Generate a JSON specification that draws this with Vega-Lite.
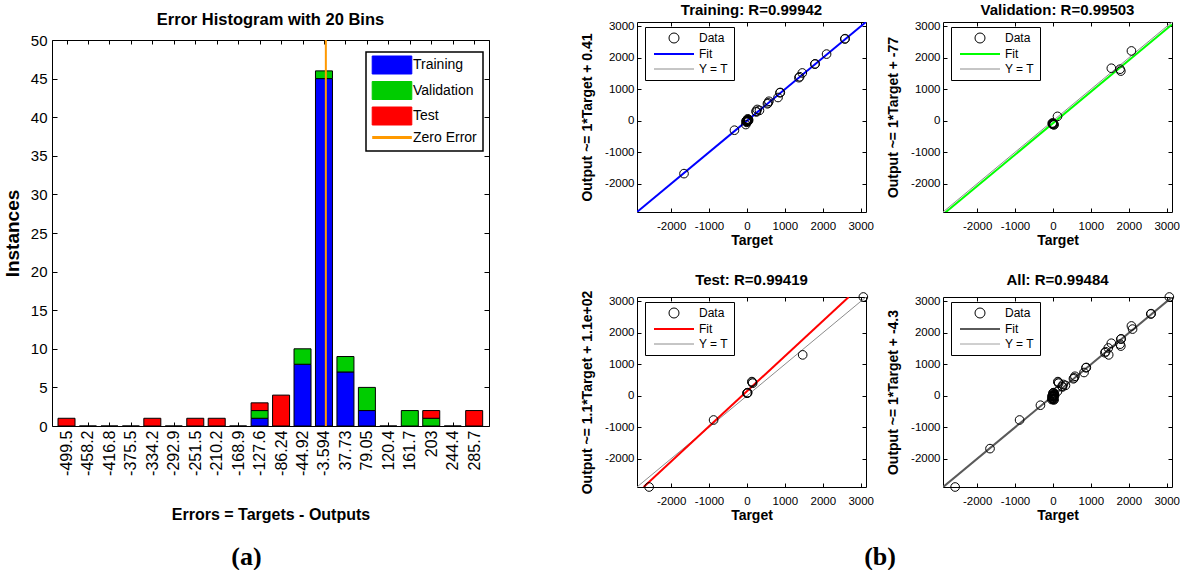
{
  "$schema": "https://vega.github.io/schema/vega-lite/v6.json",
  "background": "white",
  "padding": {"left": 2, "top": 2, "right": 0, "bottom": 0},
  "config": {
    "view": {"stroke": "black", "strokeWidth": 1},
    "axis": {"grid": false, "domain": false, "ticks": true, "tickColor": "black", "tickSize": -4, "tickWidth": 1, "labelColor": "black", "titleColor": "black", "labelFlush": false, "labelOverlap": false, "labelExpr": "'' + datum.value", "labelFont": "Liberation Sans, Arial, sans-serif", "labelFontSize": 11.5, "titleFont": "Liberation Sans, Arial, sans-serif", "titleFontSize": 14, "titleFontWeight": "bold"},
    "title": {"color": "black"}
  },
  "datasets": {
    "hist": [
      {"bin": -499.5, "series": "Test", "count": 1, "k": 3},
      {"bin": -458.2, "series": "Training", "count": 0, "k": 1},
      {"bin": -416.8, "series": "Training", "count": 0, "k": 1},
      {"bin": -375.5, "series": "Training", "count": 0, "k": 1},
      {"bin": -334.2, "series": "Test", "count": 1, "k": 3},
      {"bin": -292.9, "series": "Training", "count": 0, "k": 1},
      {"bin": -251.5, "series": "Test", "count": 1, "k": 3},
      {"bin": -210.2, "series": "Test", "count": 1, "k": 3},
      {"bin": -168.9, "series": "Training", "count": 0, "k": 1},
      {"bin": -127.6, "series": "Training", "count": 1, "k": 1},
      {"bin": -127.6, "series": "Validation", "count": 1, "k": 2},
      {"bin": -127.6, "series": "Test", "count": 1, "k": 3},
      {"bin": -86.24, "series": "Test", "count": 4, "k": 3},
      {"bin": -44.92, "series": "Training", "count": 8, "k": 1},
      {"bin": -44.92, "series": "Validation", "count": 2, "k": 2},
      {"bin": -3.594, "series": "Training", "count": 45, "k": 1},
      {"bin": -3.594, "series": "Validation", "count": 1, "k": 2},
      {"bin": 37.73, "series": "Training", "count": 7, "k": 1},
      {"bin": 37.73, "series": "Validation", "count": 2, "k": 2},
      {"bin": 79.05, "series": "Training", "count": 2, "k": 1},
      {"bin": 79.05, "series": "Validation", "count": 3, "k": 2},
      {"bin": 120.4, "series": "Training", "count": 0, "k": 1},
      {"bin": 161.7, "series": "Validation", "count": 2, "k": 2},
      {"bin": 203, "series": "Validation", "count": 1, "k": 2},
      {"bin": 203, "series": "Test", "count": 1, "k": 3},
      {"bin": 244.4, "series": "Training", "count": 0, "k": 1},
      {"bin": 285.7, "series": "Test", "count": 2, "k": 3}
    ],
    "pts": [
      {"panel": "Training", "target": -1660, "output": -1680},
      {"panel": "Training", "target": -330, "output": -300},
      {"panel": "Training", "target": -30, "output": -120},
      {"panel": "Training", "target": 0, "output": 0},
      {"panel": "Training", "target": 15, "output": 10},
      {"panel": "Training", "target": -15, "output": -20},
      {"panel": "Training", "target": 25, "output": 30},
      {"panel": "Training", "target": -5, "output": -50},
      {"panel": "Training", "target": 35, "output": 45},
      {"panel": "Training", "target": 10, "output": -30},
      {"panel": "Training", "target": -25, "output": -10},
      {"panel": "Training", "target": 45, "output": 20},
      {"panel": "Training", "target": 20, "output": 60},
      {"panel": "Training", "target": 5, "output": 15},
      {"panel": "Training", "target": 30, "output": -10},
      {"panel": "Training", "target": 240, "output": 300},
      {"panel": "Training", "target": 270, "output": 360},
      {"panel": "Training", "target": 330, "output": 330},
      {"panel": "Training", "target": 250, "output": 280},
      {"panel": "Training", "target": 540, "output": 540},
      {"panel": "Training", "target": 560, "output": 570},
      {"panel": "Training", "target": 580, "output": 620},
      {"panel": "Training", "target": 820, "output": 740},
      {"panel": "Training", "target": 870, "output": 890},
      {"panel": "Training", "target": 880, "output": 900},
      {"panel": "Training", "target": 1370, "output": 1370},
      {"panel": "Training", "target": 1390, "output": 1400},
      {"panel": "Training", "target": 1460, "output": 1520},
      {"panel": "Training", "target": 1790, "output": 1800},
      {"panel": "Training", "target": 1800, "output": 1810},
      {"panel": "Training", "target": 2100, "output": 2120},
      {"panel": "Training", "target": 2580, "output": 2600},
      {"panel": "Training", "target": 2590, "output": 2610},
      {"panel": "Validation", "target": 1540, "output": 1670},
      {"panel": "Validation", "target": 1770, "output": 1640},
      {"panel": "Validation", "target": 1790, "output": 1580},
      {"panel": "Validation", "target": 2070, "output": 2220},
      {"panel": "Validation", "target": 120, "output": 140},
      {"panel": "Validation", "target": -10, "output": -110},
      {"panel": "Validation", "target": 0, "output": -90},
      {"panel": "Validation", "target": 30, "output": -130},
      {"panel": "Validation", "target": -20, "output": -80},
      {"panel": "Validation", "target": 10, "output": -120},
      {"panel": "Validation", "target": 20, "output": -100},
      {"panel": "Validation", "target": -5, "output": -70},
      {"panel": "Test", "target": -2580, "output": -2900},
      {"panel": "Test", "target": -880, "output": -770},
      {"panel": "Test", "target": 20, "output": 100},
      {"panel": "Test", "target": 0, "output": 80},
      {"panel": "Test", "target": 10, "output": 90},
      {"panel": "Test", "target": 130, "output": 450},
      {"panel": "Test", "target": 150, "output": 400},
      {"panel": "Test", "target": 140, "output": 430},
      {"panel": "Test", "target": 1470, "output": 1300},
      {"panel": "Test", "target": 3070, "output": 3140}
    ],
    "lines": [
      {"panel": "Training", "line": "Fit", "target": -2900, "output": -2899.6},
      {"panel": "Training", "line": "Fit", "target": 3140, "output": 3140.4},
      {"panel": "Training", "line": "Y = T", "target": -2900, "output": -2900},
      {"panel": "Training", "line": "Y = T", "target": 3140, "output": 3140},
      {"panel": "Validation", "line": "Fit", "target": -2900, "output": -2977},
      {"panel": "Validation", "line": "Fit", "target": 3140, "output": 3063},
      {"panel": "Validation", "line": "Y = T", "target": -2900, "output": -2900},
      {"panel": "Validation", "line": "Y = T", "target": 3140, "output": 3140},
      {"panel": "Test", "line": "Fit", "target": -2725, "output": -2900},
      {"panel": "Test", "line": "Fit", "target": 2684, "output": 3140},
      {"panel": "Test", "line": "Y = T", "target": -2900, "output": -2900},
      {"panel": "Test", "line": "Y = T", "target": 3140, "output": 3140},
      {"panel": "All", "line": "Fit", "target": -2900, "output": -2904.3},
      {"panel": "All", "line": "Fit", "target": 3140, "output": 3135.7},
      {"panel": "All", "line": "Y = T", "target": -2900, "output": -2900},
      {"panel": "All", "line": "Y = T", "target": 3140, "output": 3140}
    ]
  },
  "concat": [
    {
      "title": {"text": "(a)", "orient": "bottom", "font": "Liberation Serif", "fontSize": 26, "fontWeight": "bold", "offset": 21, "anchor": "middle"},
      "spacing": 17,
      "bounds": "flush",
      "vconcat": [
        {
          "width": 437,
          "height": 1,
          "view": {"stroke": null},
          "data": {"values": []},
          "mark": {"type": "point"},
          "encoding": {}
        },
        {
          "width": 437,
          "height": 386,
          "title": {"text": "Error Histogram with 20 Bins", "font": "Liberation Sans, Arial, sans-serif", "fontSize": 16.5, "fontWeight": "bold", "baseline": "alphabetic", "offset": 15, "dy": 23, "anchor": "middle", "frame": "group"},
          "layer": [
            {
              "data": {"name": "hist"},
              "mark": {"type": "bar", "width": 17, "stroke": "black", "strokeWidth": 1},
              "encoding": {
                "x": {"field": "bin", "type": "quantitative", "scale": {"domain": [-517.8, 304.6], "nice": false, "zero": false},
                  "axis": {"orient": "bottom", "values": [-499.5, -458.2, -416.8, -375.5, -334.2, -292.9, -251.5, -210.2, -168.9, -127.6, -86.24, -44.92, -3.594, 37.73, 79.05, 120.4, 161.7, 203, 244.4, 285.7], "labelAngle": 270, "labelFontSize": 16, "labelPadding": 8, "tickSize": -4, "title": "Errors = Targets - Outputs", "titleFontSize": 16, "titlePadding": 31}},
                "y": {"field": "count", "type": "quantitative", "stack": "zero", "scale": {"domain": [0, 50], "nice": false},
                  "axis": {"orient": "left", "values": [0, 5, 10, 15, 20, 25, 30, 35, 40, 45, 50], "labelFontSize": 15, "labelPadding": 10, "tickSize": -5, "title": "Instances", "titleFontSize": 19, "titlePadding": 8}},
                "color": {"field": "series", "type": "nominal", "scale": {"domain": ["Training", "Validation", "Test", "Zero Error"], "range": ["#0000FF", "#00CC00", "#FF0000", "#FF9900"]},
                  "legend": {"title": null, "orient": "none", "legendX": 314, "legendY": 30, "padding": 6, "strokeColor": "black", "fillColor": "white", "symbolType": "M-2.2,-1H2.2V1H-2.2Z", "symbolSize": 324, "symbolOffset": 13, "labelOffset": 14, "rowPadding": 3.5, "labelFont": "Liberation Sans, Arial, sans-serif", "labelFontSize": 14, "labelColor": "black", "symbolStrokeWidth": 1, "symbolOpacity": 1,
                    "encode": {
                      "legend": {"update": {"strokeWidth": {"value": 1.5}}},
                      "symbols": {"update": {
                        "shape": {"signal": "datum.value === 'Zero Error' ? 'M-2.2,0H2.2' : 'M-2.2,-1H2.2V1H-2.2Z'"},
                        "stroke": {"signal": "datum.value === 'Zero Error' ? '#FF9900' : 'black'"},
                        "strokeWidth": {"signal": "datum.value === 'Zero Error' ? 3 : 1"}
                      }}
                    }}},
                "order": {"field": "k", "type": "quantitative"}
              }
            },
            {
              "data": {"values": [{"label": "Zero Error"}]},
              "mark": {"type": "rule", "strokeWidth": 2},
              "encoding": {
                "x": {"datum": 0, "type": "quantitative", "axis": {"orient": "top", "values": [-499.5, -458.2, -416.8, -375.5, -334.2, -292.9, -251.5, -210.2, -168.9, -127.6, -86.24, -44.92, -3.594, 37.73, 79.05, 120.4, 161.7, 203, 244.4, 285.7], "labels": false, "title": null, "tickSize": -4}},
                "y": {"datum": 0, "type": "quantitative", "axis": {"orient": "right", "values": [0, 5, 10, 15, 20, 25, 30, 35, 40, 45, 50], "labels": false, "title": null, "tickSize": -5}},
                "y2": {"datum": 50},
                "color": {"datum": "Zero Error", "type": "nominal",
                  "legend": {"title": null, "orient": "none", "legendX": 314, "legendY": 30, "padding": 6, "strokeColor": "black", "fillColor": "white", "symbolType": "M-2.2,-1H2.2V1H-2.2Z", "symbolSize": 324, "symbolOffset": 13, "labelOffset": 14, "rowPadding": 3.5, "labelFont": "Liberation Sans, Arial, sans-serif", "labelFontSize": 14, "labelColor": "black", "symbolStrokeWidth": 1, "symbolOpacity": 1,
                    "encode": {
                      "legend": {"update": {"strokeWidth": {"value": 1.5}}},
                      "symbols": {"update": {
                        "shape": {"signal": "datum.value === 'Zero Error' ? 'M-2.2,0H2.2' : 'M-2.2,-1H2.2V1H-2.2Z'"},
                        "stroke": {"signal": "datum.value === 'Zero Error' ? '#FF9900' : 'black'"},
                        "strokeWidth": {"signal": "datum.value === 'Zero Error' ? 3 : 1"}
                      }}
                    }}}
              }
            }
          ],
          "resolve": {"axis": {"x": "independent", "y": "independent"}}
        }
      ]
    },
    {
      "title": {"text": "(b)", "orient": "bottom", "font": "Liberation Serif", "fontSize": 26, "fontWeight": "bold", "offset": 21, "anchor": "middle"},
      "columns": 2,
      "spacing": {"row": 85, "column": 77},
      "bounds": "flush",
      "resolve": {"scale": {"stroke": "independent"}, "legend": {"stroke": "independent"}},
      "concat": [
        {
          "width": 229, "height": 190,
          "title": {"text": "Training: R=0.99942", "font": "Liberation Sans, Arial, sans-serif", "fontSize": 15, "fontWeight": "bold", "baseline": "alphabetic", "offset": 9, "dy": 18.5, "anchor": "middle", "frame": "group"},
          "layer": [
            {
              "data": {"name": "lines"},
              "transform": [{"filter": "datum.panel === 'Training' && datum.line === 'Y = T'"}],
              "mark": {"type": "line", "clip": true, "strokeWidth": 1},
              "encoding": {
                "x": {"field": "target", "type": "quantitative", "scale": {"domain": [-2900, 3140], "nice": false, "zero": false}, "axis": {"orient": "top", "values": [-2000, -1000, 0, 1000, 2000, 3000], "labels": false, "title": null}},
                "y": {"field": "output", "type": "quantitative", "scale": {"domain": [-2900, 3140], "nice": false, "zero": false}, "axis": {"orient": "right", "values": [-2000, -1000, 0, 1000, 2000, 3000], "labels": false, "title": null}},
                "stroke": {"datum": "Y = T", "type": "nominal", "scale": {"domain": ["Data", "Fit", "Y = T"], "range": ["black", "#0000FF", "#8C8C8C"]},
                  "legend": {"title": null, "orient": "none", "legendX": 8, "legendY": 5, "padding": 5, "strokeColor": "black", "fillColor": "white", "symbolSize": 100, "symbolOffset": 18, "labelOffset": 19, "rowPadding": 3, "labelFont": "Liberation Sans, Arial, sans-serif", "labelFontSize": 12, "labelColor": "black", "symbolStrokeWidth": 1, "symbolOpacity": 1,
                    "encode": {"symbols": {"update": {"shape": {"signal": "datum.value === 'Data' ? 'circle' : 'M-4,0H4'"}, "strokeWidth": {"signal": "datum.value === 'Fit' ? 2 : 1"}, "fill": {"value": "transparent"}}}}}}
              }
            },
            {
              "data": {"name": "lines"},
              "transform": [{"filter": "datum.panel === 'Training' && datum.line === 'Fit'"}],
              "mark": {"type": "line", "clip": true, "strokeWidth": 2},
              "encoding": {
                "x": {"field": "target", "type": "quantitative", "axis": null},
                "y": {"field": "output", "type": "quantitative", "axis": null},
                "stroke": {"datum": "Fit", "type": "nominal"}
              }
            },
            {
              "data": {"name": "pts"},
              "transform": [{"filter": "datum.panel === 'Training'"}],
              "mark": {"type": "point", "shape": "circle", "filled": false, "size": 75, "strokeWidth": 1, "opacity": 1},
              "encoding": {
                "x": {"field": "target", "type": "quantitative", "axis": {"orient": "bottom", "values": [-2000, -1000, 0, 1000, 2000, 3000], "title": "Target", "labelPadding": 12, "titlePadding": 2}},
                "y": {"field": "output", "type": "quantitative", "axis": {"orient": "left", "values": [-2000, -1000, 0, 1000, 2000, 3000], "title": "Output ~= 1*Target + 0.41", "labelPadding": 7, "titlePadding": 10}},
                "stroke": {"datum": "Data", "type": "nominal"}
              }
            }
          ],
          "resolve": {"axis": {"x": "independent", "y": "independent"}}
        },
        {
          "width": 229, "height": 190,
          "title": {"text": "Validation: R=0.99503", "font": "Liberation Sans, Arial, sans-serif", "fontSize": 15, "fontWeight": "bold", "baseline": "alphabetic", "offset": 9, "dy": 18.5, "anchor": "middle", "frame": "group"},
          "layer": [
            {
              "data": {"name": "lines"},
              "transform": [{"filter": "datum.panel === 'Validation' && datum.line === 'Y = T'"}],
              "mark": {"type": "line", "clip": true, "strokeWidth": 1},
              "encoding": {
                "x": {"field": "target", "type": "quantitative", "scale": {"domain": [-2900, 3140], "nice": false, "zero": false}, "axis": {"orient": "top", "values": [-2000, -1000, 0, 1000, 2000, 3000], "labels": false, "title": null}},
                "y": {"field": "output", "type": "quantitative", "scale": {"domain": [-2900, 3140], "nice": false, "zero": false}, "axis": {"orient": "right", "values": [-2000, -1000, 0, 1000, 2000, 3000], "labels": false, "title": null}},
                "stroke": {"datum": "Y = T", "type": "nominal", "scale": {"domain": ["Data", "Fit", "Y = T"], "range": ["black", "#00FF00", "#8C8C8C"]},
                  "legend": {"title": null, "orient": "none", "legendX": 8, "legendY": 5, "padding": 5, "strokeColor": "black", "fillColor": "white", "symbolSize": 100, "symbolOffset": 18, "labelOffset": 19, "rowPadding": 3, "labelFont": "Liberation Sans, Arial, sans-serif", "labelFontSize": 12, "labelColor": "black", "symbolStrokeWidth": 1, "symbolOpacity": 1,
                    "encode": {"symbols": {"update": {"shape": {"signal": "datum.value === 'Data' ? 'circle' : 'M-4,0H4'"}, "strokeWidth": {"signal": "datum.value === 'Fit' ? 2 : 1"}, "fill": {"value": "transparent"}}}}}}
              }
            },
            {
              "data": {"name": "lines"},
              "transform": [{"filter": "datum.panel === 'Validation' && datum.line === 'Fit'"}],
              "mark": {"type": "line", "clip": true, "strokeWidth": 2},
              "encoding": {
                "x": {"field": "target", "type": "quantitative", "axis": null},
                "y": {"field": "output", "type": "quantitative", "axis": null},
                "stroke": {"datum": "Fit", "type": "nominal"}
              }
            },
            {
              "data": {"name": "pts"},
              "transform": [{"filter": "datum.panel === 'Validation'"}],
              "mark": {"type": "point", "shape": "circle", "filled": false, "size": 75, "strokeWidth": 1, "opacity": 1},
              "encoding": {
                "x": {"field": "target", "type": "quantitative", "axis": {"orient": "bottom", "values": [-2000, -1000, 0, 1000, 2000, 3000], "title": "Target", "labelPadding": 12, "titlePadding": 2}},
                "y": {"field": "output", "type": "quantitative", "axis": {"orient": "left", "values": [-2000, -1000, 0, 1000, 2000, 3000], "title": "Output ~= 1*Target + -77", "labelPadding": 7, "titlePadding": 10}},
                "stroke": {"datum": "Data", "type": "nominal"}
              }
            }
          ],
          "resolve": {"axis": {"x": "independent", "y": "independent"}}
        },
        {
          "width": 229, "height": 190,
          "title": {"text": "Test: R=0.99419", "font": "Liberation Sans, Arial, sans-serif", "fontSize": 15, "fontWeight": "bold", "baseline": "alphabetic", "offset": 9, "dy": 18.5, "anchor": "middle", "frame": "group"},
          "layer": [
            {
              "data": {"name": "lines"},
              "transform": [{"filter": "datum.panel === 'Test' && datum.line === 'Y = T'"}],
              "mark": {"type": "line", "clip": true, "strokeWidth": 1},
              "encoding": {
                "x": {"field": "target", "type": "quantitative", "scale": {"domain": [-2900, 3140], "nice": false, "zero": false}, "axis": {"orient": "top", "values": [-2000, -1000, 0, 1000, 2000, 3000], "labels": false, "title": null}},
                "y": {"field": "output", "type": "quantitative", "scale": {"domain": [-2900, 3140], "nice": false, "zero": false}, "axis": {"orient": "right", "values": [-2000, -1000, 0, 1000, 2000, 3000], "labels": false, "title": null}},
                "stroke": {"datum": "Y = T", "type": "nominal", "scale": {"domain": ["Data", "Fit", "Y = T"], "range": ["black", "#FF0000", "#8C8C8C"]},
                  "legend": {"title": null, "orient": "none", "legendX": 8, "legendY": 5, "padding": 5, "strokeColor": "black", "fillColor": "white", "symbolSize": 100, "symbolOffset": 18, "labelOffset": 19, "rowPadding": 3, "labelFont": "Liberation Sans, Arial, sans-serif", "labelFontSize": 12, "labelColor": "black", "symbolStrokeWidth": 1, "symbolOpacity": 1,
                    "encode": {"symbols": {"update": {"shape": {"signal": "datum.value === 'Data' ? 'circle' : 'M-4,0H4'"}, "strokeWidth": {"signal": "datum.value === 'Fit' ? 2 : 1"}, "fill": {"value": "transparent"}}}}}}
              }
            },
            {
              "data": {"name": "lines"},
              "transform": [{"filter": "datum.panel === 'Test' && datum.line === 'Fit'"}],
              "mark": {"type": "line", "clip": true, "strokeWidth": 2},
              "encoding": {
                "x": {"field": "target", "type": "quantitative", "axis": null},
                "y": {"field": "output", "type": "quantitative", "axis": null},
                "stroke": {"datum": "Fit", "type": "nominal"}
              }
            },
            {
              "data": {"name": "pts"},
              "transform": [{"filter": "datum.panel === 'Test'"}],
              "mark": {"type": "point", "shape": "circle", "filled": false, "size": 75, "strokeWidth": 1, "opacity": 1},
              "encoding": {
                "x": {"field": "target", "type": "quantitative", "axis": {"orient": "bottom", "values": [-2000, -1000, 0, 1000, 2000, 3000], "title": "Target", "labelPadding": 12, "titlePadding": 2}},
                "y": {"field": "output", "type": "quantitative", "axis": {"orient": "left", "values": [-2000, -1000, 0, 1000, 2000, 3000], "title": "Output ~= 1.1*Target + 1.1e+02", "labelPadding": 7, "titlePadding": 10}},
                "stroke": {"datum": "Data", "type": "nominal"}
              }
            }
          ],
          "resolve": {"axis": {"x": "independent", "y": "independent"}}
        },
        {
          "width": 229, "height": 190,
          "title": {"text": "All: R=0.99484", "font": "Liberation Sans, Arial, sans-serif", "fontSize": 15, "fontWeight": "bold", "baseline": "alphabetic", "offset": 9, "dy": 18.5, "anchor": "middle", "frame": "group"},
          "layer": [
            {
              "data": {"name": "lines"},
              "transform": [{"filter": "datum.panel === 'All' && datum.line === 'Y = T'"}],
              "mark": {"type": "line", "clip": true, "strokeWidth": 1},
              "encoding": {
                "x": {"field": "target", "type": "quantitative", "scale": {"domain": [-2900, 3140], "nice": false, "zero": false}, "axis": {"orient": "top", "values": [-2000, -1000, 0, 1000, 2000, 3000], "labels": false, "title": null}},
                "y": {"field": "output", "type": "quantitative", "scale": {"domain": [-2900, 3140], "nice": false, "zero": false}, "axis": {"orient": "right", "values": [-2000, -1000, 0, 1000, 2000, 3000], "labels": false, "title": null}},
                "stroke": {"datum": "Y = T", "type": "nominal", "scale": {"domain": ["Data", "Fit", "Y = T"], "range": ["black", "#5A5A5A", "#A0A0A0"]},
                  "legend": {"title": null, "orient": "none", "legendX": 8, "legendY": 5, "padding": 5, "strokeColor": "black", "fillColor": "white", "symbolSize": 100, "symbolOffset": 18, "labelOffset": 19, "rowPadding": 3, "labelFont": "Liberation Sans, Arial, sans-serif", "labelFontSize": 12, "labelColor": "black", "symbolStrokeWidth": 1, "symbolOpacity": 1,
                    "encode": {"symbols": {"update": {"shape": {"signal": "datum.value === 'Data' ? 'circle' : 'M-4,0H4'"}, "strokeWidth": {"signal": "datum.value === 'Fit' ? 2 : 1"}, "fill": {"value": "transparent"}}}}}}
              }
            },
            {
              "data": {"name": "lines"},
              "transform": [{"filter": "datum.panel === 'All' && datum.line === 'Fit'"}],
              "mark": {"type": "line", "clip": true, "strokeWidth": 2},
              "encoding": {
                "x": {"field": "target", "type": "quantitative", "axis": null},
                "y": {"field": "output", "type": "quantitative", "axis": null},
                "stroke": {"datum": "Fit", "type": "nominal"}
              }
            },
            {
              "data": {"name": "pts"},
              "mark": {"type": "point", "shape": "circle", "filled": false, "size": 75, "strokeWidth": 1, "opacity": 1},
              "encoding": {
                "x": {"field": "target", "type": "quantitative", "axis": {"orient": "bottom", "values": [-2000, -1000, 0, 1000, 2000, 3000], "title": "Target", "labelPadding": 12, "titlePadding": 2}},
                "y": {"field": "output", "type": "quantitative", "axis": {"orient": "left", "values": [-2000, -1000, 0, 1000, 2000, 3000], "title": "Output ~= 1*Target + -4.3", "labelPadding": 7, "titlePadding": 10}},
                "stroke": {"datum": "Data", "type": "nominal"}
              }
            }
          ],
          "resolve": {"axis": {"x": "independent", "y": "independent"}}
        }
      ]
    }
  ],
  "columns": 2,
  "align": "none",
  "spacing": 90
}
